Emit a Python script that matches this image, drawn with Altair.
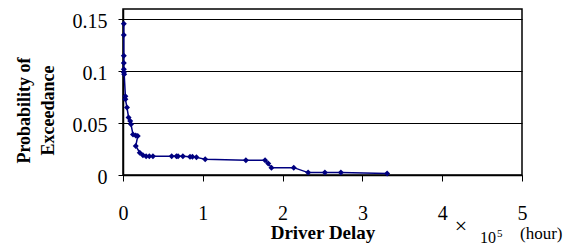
import altair as alt
import pandas as pd

# Driver delay in units of 10^5 hours, probability of exceedance
delay = [0.01, 0.01, 0.01, 0.01, 0.01, 0.01, 0.015, 0.03, 0.03, 0.05,
         0.07, 0.09, 0.10, 0.125, 0.16, 0.185, 0.16, 0.21, 0.25, 0.29,
         0.33, 0.375, 0.61, 0.67, 0.69, 0.75, 0.84, 0.87, 0.92, 1.03,
         1.54, 1.78, 1.82, 1.86, 2.14, 2.32, 2.53, 2.73, 3.31]
prob = [0.1457, 0.135, 0.115, 0.108, 0.102, 0.099, 0.097, 0.076, 0.073, 0.065,
        0.0555, 0.052, 0.049, 0.039, 0.038, 0.0375, 0.028, 0.0215, 0.019, 0.018,
        0.018, 0.018, 0.018, 0.018, 0.018, 0.018, 0.0177, 0.0177, 0.017, 0.0151,
        0.0143, 0.0143, 0.0112, 0.0071, 0.0071, 0.0023, 0.0023, 0.0023, 0.0015]
x_ticks = [0, 1, 2, 3, 4, 5]
y_ticks = [0, 0.05, 0.1, 0.15]

df = pd.DataFrame({"x": delay, "y": prob, "i": list(range(len(delay)))})

FONT = "Liberation Serif"
NAVY = "#000080"

xenc = alt.X("x:Q",
             scale=alt.Scale(domain=[0, 5], nice=False, zero=False),
             axis=alt.Axis(values=x_ticks, format="d", title="Driver Delay",
                           titleFont=FONT, titleFontSize=19, titleFontWeight="bold",
                           titleColor="black", titleBaseline="alphabetic", titleY=63,
                           labelFont=FONT, labelFontSize=20, labelColor="black",
                           labelPadding=22, tickSize=6, tickColor="black",
                           domainColor="black", domainWidth=1.5, tickWidth=1,
                           grid=False, labelFlush=False))
yenc = alt.Y("y:Q",
             scale=alt.Scale(domain=[0, 0.16], nice=False),
             axis=alt.Axis(values=y_ticks, format="~g",
                           title=["Probability of", "Exceedance"],
                           titleFont=FONT, titleFontSize=18, titleFontWeight="bold",
                           titleColor="black", titleAngle=-90, titleX=-99, titleY=101,
                           titleAlign="center", titleBaseline="middle", titleLineHeight=24,
                           labelFont=FONT, labelFontSize=20, labelColor="black",
                           labelPadding=11, labelOffset=2, tickSize=5, tickColor="black",
                           domainColor="black", domainWidth=1.5,
                           grid=True, gridColor="black", gridWidth=1, labelFlush=False))

line = alt.Chart(df).mark_line(color=NAVY, strokeWidth=1.5).encode(
    x=xenc, y=yenc, order="i:Q")
pts = alt.Chart(df).mark_point(shape="diamond", filled=True, size=36,
                               color=NAVY, opacity=1).encode(x="x:Q", y="y:Q")

def note(txt, px, py, size, align="left", baseline="alphabetic"):
    return alt.Chart(alt.Data(values=[{}])).mark_text(
        text=txt, font=FONT, fontSize=size, color="black",
        align=align, baseline=baseline).encode(
        x=alt.value(px), y=alt.value(py))

times = note("\u00d7", 338, 217, 22, align="center", baseline="middle")
ten = note("10", 357, 234, 16)
five = note("5", 374, 228, 11)
hour = note("(hour)", 397, 230, 17)

chart = alt.layer(line, pts, times, ten, five, hour).properties(
    width=399, height=166,
    autosize=alt.AutoSizeParams(type="none"),
    padding={"left": 115, "top": 1, "right": 49, "bottom": 80},
    background="white",
).configure_view(stroke="black", strokeWidth=1.5)

chart.save("out.html", embed_options={"renderer": "svg", "actions": False})
